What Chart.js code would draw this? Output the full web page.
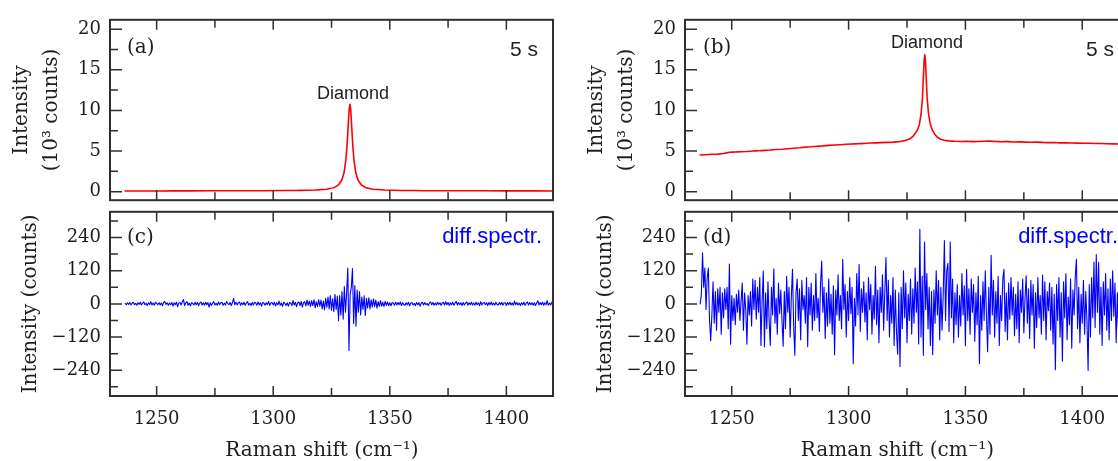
<!DOCTYPE html>
<html><head><meta charset="utf-8">
<script src="https://cdn.jsdelivr.net/npm/chart.js@4/dist/chart.umd.min.js"></script>
<style>
html,body{margin:0;padding:0;background:#fff;overflow:hidden;width:1118px;height:461px;}
#wrap{position:relative;width:1118px;height:461px;overflow:hidden;background:#fff;}
canvas{position:absolute;}
</style></head><body><div id="wrap">
<canvas id="ca" width="570" height="220" style="left:0px;top:0px"></canvas>
<canvas id="cc" width="570" height="269" style="left:0px;top:192px"></canvas>
<canvas id="cb" width="571" height="220" style="left:575px;top:0px"></canvas>
<canvas id="cd" width="571" height="269" style="left:575px;top:192px"></canvas>
</div>
<script>
// ---------- tick labels ----------
const xTicks = [1250, 1300, 1350, 1400];
const xMinor = [1275, 1325, 1375];
const topYTicks = [0, 5, 10, 15, 20];
const topYMinor = [2.5, 7.5, 12.5, 17.5];
const diffYTicks = [-240, -120, 0, 120, 240];
const diffYMinor = [-300, -180, -60, 60, 180, 300];

// ---------- (a) spectrum, 10^3 counts ----------
const aShift = [1236.5,1250,1265,1280,1295,1305,1312,1317.9,1322.9,1325.9,1327.9,1329.4,1330.4,1331.1,1331.6,1332.0,1332.3,1332.6,1332.9,1333.2,1333.5,1333.8,1334.2,1334.7,1335.4,1336.4,1337.9,1339.9,1342.9,1347.9,1355,1365,1380,1400,1421];
const aValues = [0.08,0.09,0.1,0.11,0.12,0.14,0.16,0.2,0.3,0.47,0.8,1.4,2.35,3.75,5.4,7.3,8.85,10.2,10.75,10.2,8.85,7.3,5.4,3.75,2.35,1.4,0.8,0.47,0.3,0.2,0.15,0.12,0.11,0.1,0.09];

// ---------- (b) spectrum, 10^3 counts ----------
const bShift = [1236.5,1239,1241.5,1244,1246.5,1249,1251.5,1254,1256.5,1259,1261.5,1264,1266.5,1269,1271.5,1274,1276.5,1279,1281.5,1284,1286.5,1289,1291.5,1294,1296.5,1299,1301.5,1304,1306.5,1309,1311.5,1314,1316.5,1319,1321.5,1323.5,1325,1326.5,1327.5,1328.5,1329.5,1330.3,1331,1331.6,1332,1332.3,1332.6,1332.9,1333.2,1333.6,1334.2,1334.9,1335.8,1336.8,1338,1339.5,1341,1343,1345.5,1348,1350.5,1353,1355.5,1358,1360.5,1363,1365.5,1368,1370.5,1373,1375.5,1378,1380.5,1383,1385.5,1388,1390.5,1393,1395.5,1398,1400.5,1403,1405.5,1408,1410.5,1413,1415.5,1418,1420.5];
const bValues = [4.52,4.55,4.6,4.62,4.7,4.85,4.88,4.92,4.95,5.0,5.03,5.08,5.12,5.18,5.22,5.28,5.35,5.4,5.48,5.52,5.58,5.63,5.7,5.74,5.78,5.83,5.86,5.9,5.93,5.98,6.0,6.03,6.07,6.1,6.15,6.25,6.35,6.55,6.8,7.15,7.6,8.3,9.5,11.5,14.0,16.0,16.85,16.2,14.2,11.6,9.6,8.4,7.6,7.1,6.7,6.45,6.32,6.25,6.2,6.18,6.2,6.16,6.18,6.2,6.22,6.17,6.15,6.16,6.12,6.13,6.1,6.08,6.1,6.06,6.04,6.03,6.0,6.0,5.98,5.97,5.95,5.95,5.93,5.92,5.9,5.88,5.87,5.86,5.85];

// ---------- difference spectra, shared Raman shift grid ----------
const diffShift = [
1236.5,1237,1237.5,1238,1238.5,1239,1239.5,1240,1240.5,1241,
1241.5,1242,1242.5,1243,1243.5,1244,1244.5,1245,1245.5,1246,
1246.5,1247,1247.5,1248,1248.5,1249,1249.5,1250,1250.5,1251,
1251.5,1252,1252.5,1253,1253.5,1254,1254.5,1255,1255.5,1256,
1256.5,1257,1257.5,1258,1258.5,1259,1259.5,1260,1260.5,1261,
1261.5,1262,1262.5,1263,1263.5,1264,1264.5,1265,1265.5,1266,
1266.5,1267,1267.5,1268,1268.5,1269,1269.5,1270,1270.5,1271,
1271.5,1272,1272.5,1273,1273.5,1274,1274.5,1275,1275.5,1276,
1276.5,1277,1277.5,1278,1278.5,1279,1279.5,1280,1280.5,1281,
1281.5,1282,1282.5,1283,1283.5,1284,1284.5,1285,1285.5,1286,
1286.5,1287,1287.5,1288,1288.5,1289,1289.5,1290,1290.5,1291,
1291.5,1292,1292.5,1293,1293.5,1294,1294.5,1295,1295.5,1296,
1296.5,1297,1297.5,1298,1298.5,1299,1299.5,1300,1300.5,1301,
1301.5,1302,1302.5,1303,1303.5,1304,1304.5,1305,1305.5,1306,
1306.5,1307,1307.5,1308,1308.5,1309,1309.5,1310,1310.5,1311,
1311.5,1312,1312.5,1313,1313.5,1314,1314.5,1315,1315.5,1316,
1316.5,1317,1317.5,1318,1318.5,1319,1319.5,1320,1320.5,1321,
1321.5,1322,1322.5,1323,1323.5,1324,1324.5,1325,1325.5,1326,
1326.5,1327,1327.5,1328,1328.5,1329,1329.5,1330,1330.5,1331,
1331.5,1332,1332.5,1333,1333.5,1334,1334.5,1335,1335.5,1336,
1336.5,1337,1337.5,1338,1338.5,1339,1339.5,1340,1340.5,1341,
1341.5,1342,1342.5,1343,1343.5,1344,1344.5,1345,1345.5,1346,
1346.5,1347,1347.5,1348,1348.5,1349,1349.5,1350,1350.5,1351,
1351.5,1352,1352.5,1353,1353.5,1354,1354.5,1355,1355.5,1356,
1356.5,1357,1357.5,1358,1358.5,1359,1359.5,1360,1360.5,1361,
1361.5,1362,1362.5,1363,1363.5,1364,1364.5,1365,1365.5,1366,
1366.5,1367,1367.5,1368,1368.5,1369,1369.5,1370,1370.5,1371,
1371.5,1372,1372.5,1373,1373.5,1374,1374.5,1375,1375.5,1376,
1376.5,1377,1377.5,1378,1378.5,1379,1379.5,1380,1380.5,1381,
1381.5,1382,1382.5,1383,1383.5,1384,1384.5,1385,1385.5,1386,
1386.5,1387,1387.5,1388,1388.5,1389,1389.5,1390,1390.5,1391,
1391.5,1392,1392.5,1393,1393.5,1394,1394.5,1395,1395.5,1396,
1396.5,1397,1397.5,1398,1398.5,1399,1399.5,1400,1400.5,1401,
1401.5,1402,1402.5,1403,1403.5,1404,1404.5,1405,1405.5,1406,
1406.5,1407,1407.5,1408,1408.5,1409,1409.5,1410,1410.5,1411,
1411.5,1412,1412.5,1413,1413.5,1414,1414.5,1415,1415.5,1416,
1416.5,1417,1417.5,1418,1418.5,1419,1419.5,1420,1420.5];

// (c) difference spectrum, counts
const cDiff = [
2,-3,4,-2,5,-4,3,6,-3,2,
-5,4,-2,6,-4,3,7,-3,2,-6,
4,-2,8,-4,3,-5,6,2,-3,5,
-4,3,-6,5,9,-2,4,-5,3,-3,
5,-8,4,-3,6,-10,3,5,-4,7,
16,-6,4,8,-5,3,-7,5,2,-4,
6,-3,5,-6,3,7,-4,4,-5,6,
-3,5,-12,4,-6,3,8,-4,2,-5,
7,-3,4,6,-5,3,-4,8,2,-3,
5,-6,4,20,-3,6,-4,3,7,-5,
4,-3,6,-5,3,8,-4,2,-6,5,
-4,6,3,-5,7,-3,4,-8,5,3,
-5,4,-3,9,-6,3,5,-4,6,-7,
4,-3,10,-5,3,-9,6,2,-6,4,
-8,5,3,-6,12,-4,6,-10,4,7,
-6,9,-12,5,8,-7,14,-5,10,-9,
12,-6,15,-14,8,-10,16,-8,14,-18,
10,-22,20,-12,25,-18,30,-24,18,-28,
35,-20,28,-62,30,-40,45,-55,63,-30,
40,130,-168,35,60,128,-71,66,-81,50,
-30,45,-40,25,-20,30,-42,20,-15,22,
-18,15,-12,18,-10,14,-15,8,-9,12,
-8,6,-10,9,-5,7,-6,4,-7,5,
3,-5,6,-4,5,-3,7,-6,4,-2,
-5,4,-3,6,-7,3,5,-4,2,-6,
5,-3,4,-8,3,6,-4,5,-3,2,
-6,4,7,-3,5,-5,3,-4,6,-2,
4,-5,3,6,-4,8,-3,5,-6,4,
-3,6,-5,3,9,-4,5,-3,4,-6,
5,-4,3,7,-5,4,-3,6,-4,3,
-5,6,-3,4,-6,8,-4,3,5,-3,
4,-6,5,-3,7,-4,3,-5,6,-2,
-4,5,-3,6,-5,3,4,-6,5,-3,
6,-4,3,-5,10,-3,5,-4,3,-6,
4,-3,6,-5,3,7,-4,5,-3,4,
-5,4,-6,3,11,-4,5,-3,6,-5,
4,-3,12,-5,3,-4,6,-3,5];

// (d) difference spectrum, counts
const dDiff = [
0,35,185,60,130,-20,95,130,-60,-133,
-40,80,-70,45,-95,55,-30,60,-110,40,
-50,55,-20,60,-90,144,-146,30,-60,20,
-75,35,-30,50,-60,10,75,-95,40,-20,
-146,30,-40,45,-80,90,-20,85,-55,60,
-30,95,-150,10,119,-155,40,-90,80,-60,
-150,60,-40,127,-70,20,-110,75,-35,50,
-60,-153,45,-90,100,-30,60,-120,25,125,
-80,-186,40,90,-60,55,-130,85,-20,30,
-70,95,-155,60,-40,75,-95,30,-60,110,
-50,20,-100,70,155,-30,60,-125,40,-80,
90,-70,35,-110,65,-184,50,-40,105,-60,
30,-90,161,-20,70,-120,45,-60,95,-35,
60,-216,20,-80,110,-40,142,-100,55,-30,
80,-65,40,-130,95,-20,70,-110,30,-55,
136,-75,50,-140,60,-30,105,-95,45,168,
-60,85,-120,30,-70,95,-150,50,-100,-182,
40,-226,60,-90,120,-50,75,-140,35,-60,
90,-110,55,-70,130,-30,80,-145,270,-120,
100,-186,224,-20,110,-90,60,-150,45,-184,
50,-70,120,-40,85,-130,60,-95,35,229,
-60,120,147,-100,224,-50,90,-140,40,-75,
70,-120,30,-80,110,-40,65,-150,125,-60,
55,-110,90,-30,70,-135,40,-75,100,-216,
30,-95,80,-60,120,-40,-173,60,-110,176,
-40,85,-120,45,-70,100,-150,30,-60,90,
125,-100,40,-130,75,-55,95,-40,60,-115,
35,-90,80,-140,50,-30,90,-105,20,102,
-70,55,-125,85,-40,70,-160,40,-85,95,
-50,30,-110,104,-60,80,-130,45,-25,75,
-95,60,-145,35,-238,70,-60,95,-120,40,
-207,80,-50,110,-130,25,-75,90,-160,50,
-40,100,161,-90,60,-140,35,-70,85,-110,
45,-60,-241,70,-120,95,-50,151,-85,178,
-30,150,-110,60,-150,80,-40,110,-95,55,
-130,90,-60,120,-45,75,-140,40,-90,100,
-60,130,-110,50,-80,95,-140,60,-30];

// ---------- styling ----------
const SERIF = "'DejaVu Serif', 'Liberation Serif', serif";
const SANS = "'Liberation Sans', Arial, sans-serif";
const INK = '#1e1e1e';
const FRAME = '#2f2f2f';

function fmtTick(v) { return v < 0 ? '\u2212' + Math.abs(v) : String(v); }

function makePanel(id, cfg) {
  const annot = {
    id: 'annot_' + id,
    afterDraw(chart) {
      const {ctx, chartArea: a, scales: {x, y}} = chart;
      ctx.save();
      ctx.strokeStyle = FRAME;
      ctx.lineWidth = 1.5;
      ctx.beginPath();
      const seg = (x0, y0, x1, y1) => { ctx.moveTo(x0, y0); ctx.lineTo(x1, y1); };
      x.ticks.forEach(t => { const p = x.getPixelForValue(t.value); seg(p, a.top, p, a.top + 10); seg(p, a.bottom, p, a.bottom - 10); });
      cfg.xMinor.forEach(v => { const p = x.getPixelForValue(v); seg(p, a.top, p, a.top + 8); seg(p, a.bottom, p, a.bottom - 8); });
      y.ticks.forEach(t => { const p = y.getPixelForValue(t.value); seg(a.left, p, a.left + 12, p); });
      cfg.yMinor.forEach(v => { const p = y.getPixelForValue(v); seg(a.left, p, a.left + 8, p); });
      ctx.stroke();
      ctx.lineWidth = 2;
      ctx.strokeRect(a.left, a.top, a.right - a.left, a.bottom - a.top);
      ctx.textBaseline = 'middle';
      (cfg.texts || []).forEach(t => {
        ctx.font = t.font;
        ctx.fillStyle = t.color || INK;
        ctx.textAlign = t.align;
        const px = t.side === 'right' ? a.right + t.dx : a.left + t.dx;
        ctx.fillText(t.text, px, a.top + t.dy);
      });
      (cfg.dataTexts || []).forEach(t => {
        ctx.font = t.font;
        ctx.fillStyle = t.color || INK;
        ctx.textAlign = 'center';
        ctx.fillText(t.text, x.getPixelForValue(t.xv), y.getPixelForValue(t.yv));
      });
      ctx.restore();
    }
  };
  return new Chart(document.getElementById(id), {
    type: 'line',
    data: { datasets: [{
      data: cfg.shift.map((v, i) => ({x: v, y: cfg.values[i]})),
      borderColor: cfg.color, borderWidth: cfg.lw, borderJoinStyle: 'round', borderCapStyle: 'round',
      pointRadius: 0, tension: 0.000001, fill: false
    }] },
    options: {
      responsive: false, animation: false, devicePixelRatio: 1, events: [],
      layout: { padding: cfg.padding },
      plugins: { legend: {display: false}, tooltip: {enabled: false}, title: {display: false} },
      scales: {
        x: {
          type: 'linear', min: 1230, max: 1420,
          afterBuildTicks: s => { s.ticks = xTicks.map(v => ({value: v})); },
          ticks: { display: cfg.showX, padding: 13, color: INK, autoSkip: false, maxRotation: 0,
                   font: {family: SERIF, size: 18}, callback: v => String(v) },
          grid: { display: false, drawTicks: false },
          border: { display: false },
          title: { display: cfg.showX, text: 'Raman shift (cm\u207B\u00B9)\u00A0\u00A0\u00A0', color: INK,
                   font: {family: SERIF, size: 20, lineHeight: 1.0}, padding: {top: 0, bottom: 0} },
          afterFit: s => { s.height = cfg.showX ? 65 : 0; }
        },
        y: {
          type: 'linear', min: cfg.yMin, max: cfg.yMax,
          afterBuildTicks: s => { s.ticks = cfg.yTicks.map(v => ({value: v})); },
          ticks: { padding: 9, color: INK, font: {family: SERIF, size: 18}, callback: v => fmtTick(v) },
          grid: { display: false, drawTicks: false },
          border: { display: false },
          title: { display: true, text: cfg.yTitle, color: INK,
                   font: {family: SERIF, size: 20, lineHeight: 1.5}, padding: {top: cfg.titlePad, bottom: 0} },
          afterFit: s => { s.width = 110; }
        }
      }
    },
    plugins: [annot]
  });
}

const topPad = {top: 15, bottom: 14, left: 0, right: 17};
const botPad = {top: 14, bottom: 0, left: 0, right: 17};

makePanel('ca', {
  shift: aShift, values: aValues, color: '#ff0000', lw: 1.6,
  yMin: -1.05, yMax: 21.15, yTicks: topYTicks, yMinor: topYMinor, xMinor: xMinor,
  yTitle: ['Intensity', '(10\u00B3 counts)'], titlePad: 7, showX: false, padding: topPad,
  texts: [
    {text: '(a)', font: '20px ' + SERIF, align: 'left', side: 'left', dx: 17, dy: 28},
    {text: '5 s', font: '21px ' + SANS, align: 'right', side: 'right', dx: -15, dy: 30.5}
  ],
  dataTexts: [{text: 'Diamond', font: '18px ' + SANS, xv: 1334.2, yv: 12.0}]
});
makePanel('cb', {
  shift: bShift, values: bValues, color: '#ff0000', lw: 1.6,
  yMin: -1.05, yMax: 21.15, yTicks: topYTicks, yMinor: topYMinor, xMinor: xMinor,
  yTitle: ['Intensity', '(10\u00B3 counts)'], titlePad: 7, showX: false, padding: topPad,
  texts: [
    {text: '(b)', font: '20px ' + SERIF, align: 'left', side: 'left', dx: 18, dy: 28},
    {text: '5 s', font: '21px ' + SANS, align: 'right', side: 'right', dx: -15, dy: 30.5}
  ],
  dataTexts: [{text: 'Diamond', font: '18px ' + SANS, xv: 1333.6, yv: 18.3}]
});
makePanel('cc', {
  shift: diffShift, values: cDiff, color: '#0000ff', lw: 1.1,
  yMin: -333, yMax: 333, yTicks: diffYTicks, yMinor: diffYMinor, xMinor: xMinor,
  yTitle: 'Intensity (counts)', titlePad: 16, showX: true, padding: botPad,
  texts: [
    {text: '(c)', font: '20px ' + SERIF, align: 'left', side: 'left', dx: 17, dy: 26},
    {text: 'diff.spectr.', font: '22px ' + SANS, color: '#0000ff', align: 'right', side: 'right', dx: -11, dy: 25}
  ]
});
makePanel('cd', {
  shift: diffShift, values: dDiff, color: '#0000ff', lw: 1.1,
  yMin: -333, yMax: 333, yTicks: diffYTicks, yMinor: diffYMinor, xMinor: xMinor,
  yTitle: 'Intensity (counts)', titlePad: 16, showX: true, padding: botPad,
  texts: [
    {text: '(d)', font: '20px ' + SERIF, align: 'left', side: 'left', dx: 18, dy: 26},
    {text: 'diff.spectr.', font: '22px ' + SANS, color: '#0000ff', align: 'right', side: 'right', dx: -11, dy: 25}
  ]
});
</script>
</body></html>
